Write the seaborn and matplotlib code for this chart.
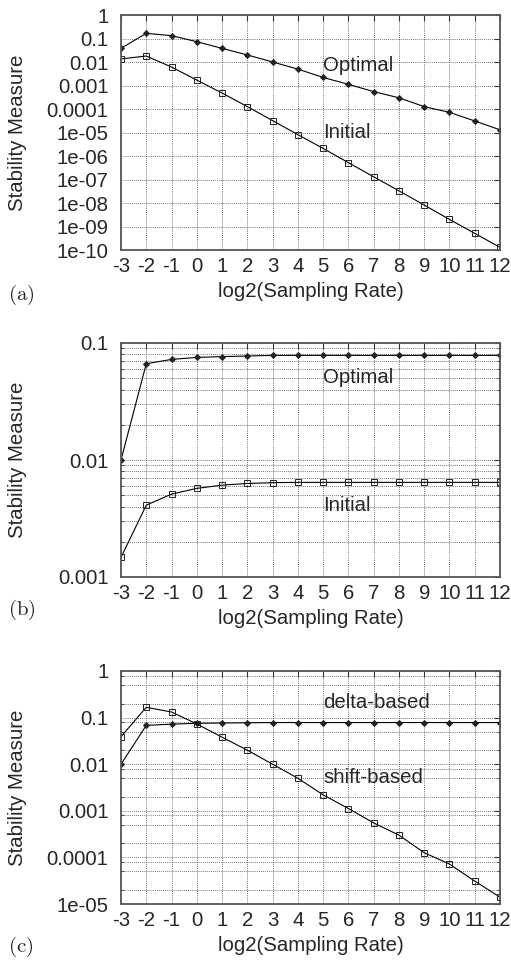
import matplotlib
matplotlib.use('Agg')
import matplotlib.pyplot as plt
import matplotlib.ticker as mticker
import numpy as np
import pandas as pd
import seaborn as sns

# x values: log2(sampling rate)
log2_rate = list(range(-3, 13))

# panel (a)
a_optimal = [0.038, 0.166, 0.132, 0.073, 0.038, 0.020, 0.010, 0.0050, 0.0022,
             0.00112, 0.00055, 0.0003, 0.000126, 7.2e-5, 3.1e-5, 1.3e-5]
a_initial = [0.0135, 0.018, 0.0061, 0.0017, 0.00048, 0.000126, 3.2e-5, 8.1e-6,
             2.1e-6, 5.2e-7, 1.3e-7, 3.3e-8, 8.2e-9, 2.0e-9, 5.1e-10, 1.3e-10]

# panel (b)
b_optimal = [0.010, 0.0665, 0.0724, 0.0753, 0.0765, 0.0774, 0.0784, 0.0784,
             0.0784, 0.0784, 0.0784, 0.0784, 0.0784, 0.0784, 0.0784, 0.0784]
b_initial = [0.00147, 0.00411, 0.00511, 0.00572, 0.0061, 0.0063, 0.0064, 0.00644,
             0.00644, 0.00644, 0.00644, 0.00644, 0.00644, 0.00644, 0.00644, 0.00644]

# panel (c)
c_delta = [0.010, 0.068, 0.0724, 0.0753, 0.0765, 0.0774, 0.0784, 0.0784,
           0.0784, 0.0784, 0.0784, 0.0784, 0.0784, 0.0784, 0.0784, 0.0784]
c_shift = [0.039, 0.166, 0.132, 0.073, 0.038, 0.020, 0.010, 0.0050, 0.0022,
           0.00112, 0.00055, 0.0003, 0.000126, 7.2e-5, 3.1e-5, 1.4e-5]

a_yticks = [1, 0.1, 0.01, 0.001, 0.0001, 1e-5, 1e-6, 1e-7, 1e-8, 1e-9, 1e-10]
a_ylabels = ['1', '0.1', '0.01', '0.001', '0.0001', '1e-05', '1e-06', '1e-07',
             '1e-08', '1e-09', '1e-10']
b_yticks = [0.1, 0.01, 0.001]
b_ylabels = ['0.1', '0.01', '0.001']
c_yticks = [1, 0.1, 0.01, 0.001, 0.0001, 1e-5]
c_ylabels = ['1', '0.1', '0.01', '0.001', '0.0001', '1e-05']

sns.set_style('white')
plt.rcParams['font.family'] = ['Liberation Sans', 'DejaVu Sans']
plt.rcParams['mathtext.fontset'] = 'cm'

FS = 14.7
W, H = 511, 960
fig = plt.figure(figsize=(W / 100, H / 100), dpi=100)

# axes boxes in pixels: left, top, right, bottom
boxes = [(121, 15, 500, 250), (121, 343, 500, 577), (121, 671, 500, 904)]


def make_ax(box):
    l, t, r, b = box
    return fig.add_axes([l / W, 1 - b / H, (r - l) / W, (b - t) / H])


def style_ax(ax, box, yticks, ylabels, ylim, minor_subs):
    l, t, r, b = box
    ax.set_yscale('log')
    ax.set_xlim(-3, 12)
    ax.set_ylim(*ylim)
    ax.set_xticks(log2_rate)
    ax.set_xticklabels([str(v) for v in log2_rate])
    ax.set_yticks(yticks)
    ax.set_yticklabels(ylabels)
    grid_kw = dict(color='#444444', ls=(0, (1, 1.5)), lw=0.6)
    if minor_subs is not None:
        ax.yaxis.set_minor_locator(mticker.LogLocator(base=10, subs=minor_subs, numticks=50))
        ax.yaxis.set_minor_formatter(mticker.NullFormatter())
        ax.grid(True, which='minor', axis='y', **grid_kw)
    else:
        ax.yaxis.set_minor_locator(mticker.NullLocator())
    ax.grid(True, which='major', **grid_kw)
    ax.tick_params(axis='both', which='major', direction='in', length=4,
                   top=True, right=True, labelsize=FS, color='#333333')
    ax.tick_params(axis='x', pad=5)
    ax.tick_params(axis='y', pad=9)
    ax.tick_params(axis='y', which='minor', direction='in', length=2.5,
                   left=True, right=True, color='#333333')
    ax.set_xlabel('log2(Sampling Rate)', fontsize=FS, va='center')
    ax.set_ylabel('Stability Measure', fontsize=FS, va='center')
    ax.xaxis.set_label_coords(0.5, -41.5 / (b - t))
    ax.yaxis.set_label_coords((18 - l) / (r - l), 0.5)
    for s in ax.spines.values():
        s.set_color('#555555')
        s.set_linewidth(1.3)


def draw(ax, y, marker, ms, filled):
    df = pd.DataFrame({'x': log2_rate, 'y': y})
    sns.lineplot(data=df, x='x', y='y', ax=ax, color='black', lw=0.8,
                 marker=marker, markersize=ms,
                 markerfacecolor='#222222' if filled else 'none',
                 markeredgecolor='#222222', markeredgewidth=0.7)


ax_a = make_ax(boxes[0])
draw(ax_a, a_optimal, 'D', 3, True)
draw(ax_a, a_initial, 's', 5, False)
style_ax(ax_a, boxes[0], a_yticks, a_ylabels, (1e-10, 1), None)
ax_a.text(5, 0.0074, 'Optimal', fontsize=FS, va='center', ha='left')
ax_a.text(5, 1.0e-5, 'Initial', fontsize=FS, va='center', ha='left')

ax_b = make_ax(boxes[1])
draw(ax_b, b_optimal, 'D', 3, True)
draw(ax_b, b_initial, 's', 5, False)
style_ax(ax_b, boxes[1], b_yticks, b_ylabels, (0.001, 0.1), np.arange(2, 10))
ax_b.text(5, 0.051, 'Optimal', fontsize=FS, va='center', ha='left')
ax_b.text(5, 0.0041, 'Initial', fontsize=FS, va='center', ha='left')

ax_c = make_ax(boxes[2])
draw(ax_c, c_delta, 'D', 3, True)
draw(ax_c, c_shift, 's', 5, False)
style_ax(ax_c, boxes[2], c_yticks, c_ylabels, (1e-5, 1), [2, 5, 8])
ax_c.text(5, 0.21, 'delta-based', fontsize=FS, va='center', ha='left')
ax_c.text(5, 0.0053, 'shift-based', fontsize=FS, va='center', ha='left')

for lab, yp in zip(['a', 'b', 'c'], [295, 610, 947]):
    fig.text(8 / W, 1 - yp / H, r'$\mathrm{(' + lab + ')}$', fontsize=15, va='center', ha='left')

fig.savefig('out.png', dpi=100)
